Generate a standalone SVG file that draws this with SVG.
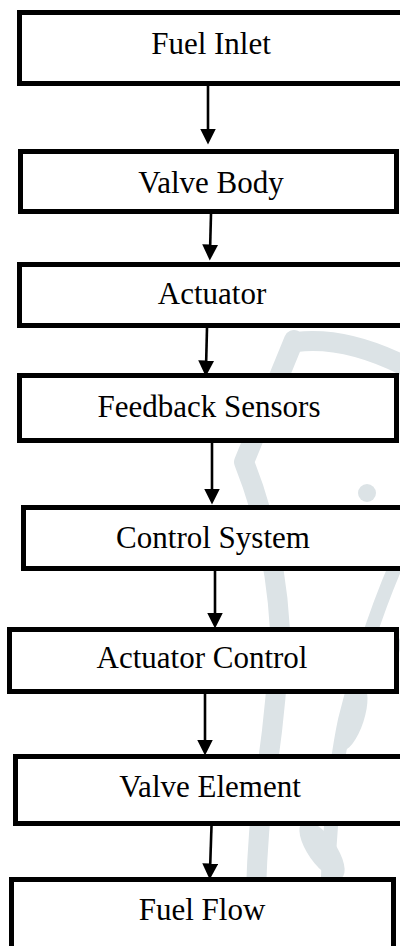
<svg xmlns="http://www.w3.org/2000/svg" width="400" height="946" viewBox="0 0 400 946">
  <style>
    .box { fill: #ffffff; stroke: #000000; stroke-width: 5; }
    .lbl { font-family: "Liberation Serif", "Times New Roman", serif; font-size: 31px; fill: #000000; text-anchor: middle; }
    .conn { stroke: #000000; stroke-width: 2.6; fill: none; }
    .wm { stroke: #dce3e6; fill: none; stroke-linecap: round; stroke-linejoin: round; }
    .wmf { fill: #dce3e6; }
  </style>
  <defs>
    <marker id="arrow" markerUnits="userSpaceOnUse" markerWidth="16" markerHeight="16" viewBox="0 0 15 15" refX="7" refY="7.5" orient="auto">
      <path d="M0,0 L15,7.5 L0,15 Z" fill="#000000"/>
    </marker>
  </defs>
  <rect width="400" height="946" fill="#ffffff"/>

  <g id="watermark">
    <path class="wm" stroke-width="20" d="M296,342 Q345,336 405,366"/>
    <path class="wm" stroke-width="20" d="M294,340 L244,462 Q275,540 280,630 Q276,720 262,800 Q254,880 256,946"/>
    <circle class="wmf" cx="367" cy="493" r="9"/>
    <path class="wm" stroke-width="14" d="M405,545 Q370,620 345,720 Q328,800 326,946"/>
    <ellipse class="wmf" cx="352" cy="718" rx="12" ry="34" transform="rotate(18 352 718)"/>
    <ellipse class="wmf" cx="385" cy="660" rx="10" ry="26" transform="rotate(30 385 660)"/>
    <ellipse class="wmf" cx="322" cy="850" rx="14" ry="34" transform="rotate(-35 322 850)"/>
    <ellipse class="wmf" cx="372" cy="790" rx="12" ry="30" transform="rotate(25 372 790)"/>
  </g>

  <g id="connectors">
    <path class="conn" d="M208,86 L208,136" marker-end="url(#arrow)"/>
    <path class="conn" d="M211,214 L210,252" marker-end="url(#arrow)"/>
    <path class="conn" d="M207,328 L206,368" marker-end="url(#arrow)"/>
    <path class="conn" d="M212,443 L212,496" marker-end="url(#arrow)"/>
    <path class="conn" d="M215,571 L215,620" marker-end="url(#arrow)"/>
    <path class="conn" d="M205,694 L205,747" marker-end="url(#arrow)"/>
    <path class="conn" d="M211.5,826 L210,871" marker-end="url(#arrow)"/>
  </g>

  <g id="fuel-inlet">
    <rect class="box" x="19.5" y="12.5" width="390" height="71"/>
    <text class="lbl" x="211" y="54">Fuel Inlet</text>
  </g>
  <g id="valve-body">
    <rect class="box" x="20.5" y="151.5" width="376" height="60"/>
    <text class="lbl" x="211" y="193">Valve Body</text>
  </g>
  <g id="actuator">
    <rect class="box" x="19.5" y="264.5" width="390" height="61"/>
    <text class="lbl" x="212" y="304">Actuator</text>
  </g>
  <g id="feedback-sensors">
    <rect class="box" x="19.5" y="375.5" width="377" height="65"/>
    <text class="lbl" x="209" y="417">Feedback Sensors</text>
  </g>
  <g id="control-system">
    <rect class="box" x="23.5" y="507.5" width="390" height="61"/>
    <text class="lbl" x="213" y="548">Control System</text>
  </g>
  <g id="actuator-control">
    <rect class="box" x="9.5" y="629.5" width="387" height="62"/>
    <text class="lbl" x="202" y="668">Actuator Control</text>
  </g>
  <g id="valve-element">
    <rect class="box" x="15.5" y="756.5" width="390" height="67"/>
    <text class="lbl" x="210" y="797">Valve Element</text>
  </g>
  <g id="fuel-flow">
    <rect class="box" x="11.5" y="879.5" width="382" height="80"/>
    <text class="lbl" x="202" y="920">Fuel Flow</text>
  </g>
</svg>
